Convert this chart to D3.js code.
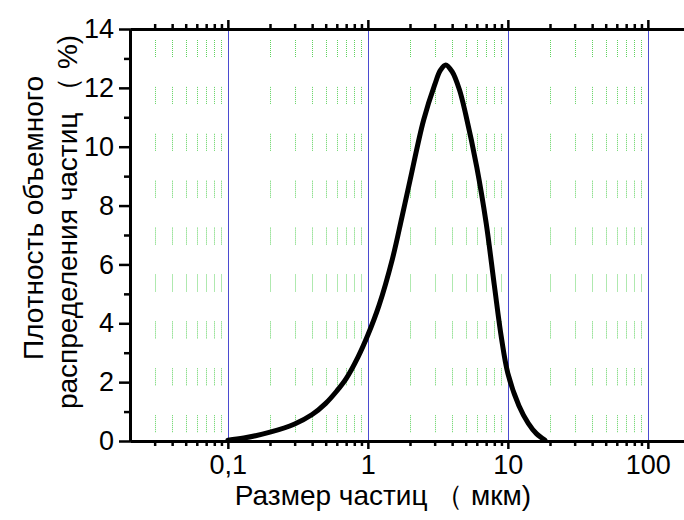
<!DOCTYPE html>
<html>
<head>
<meta charset="utf-8">
<script src="https://cdn.jsdelivr.net/npm/d3@7"></script>
<style>
  body { margin: 0; background: #fff; }
  svg { display: block; font-family: "Liberation Sans", Arial, sans-serif; }
</style>
</head>
<body>
<svg width="684" height="520"></svg>
<script>
const width = 684, height = 520;
const svg = d3.select("svg");

// particle size (um) and volume density (%)
const sizes = [0.1, 0.13, 0.2, 0.3, 0.4, 0.5, 0.6, 0.7, 0.85, 1, 1.2, 1.5, 1.75, 2, 2.5, 3, 3.3, 3.6, 4, 4.5, 5, 6, 7, 8, 9, 10, 12, 14, 16, 18.4];
const density = [0.03, 0.1, 0.3, 0.58, 0.9, 1.28, 1.7, 2.12, 2.85, 3.6, 4.6, 6.2, 7.6, 8.85, 10.9, 12.1, 12.6, 12.78, 12.55, 11.95, 11.1, 9.3, 7.4, 5.3, 3.5, 2.3, 1.2, 0.6, 0.25, 0.03];

const xMajor = [0.1, 1, 10, 100];
const xMajorLabels = ["0,1", "1", "10", "100"];
const xMinor = [0.03, 0.04, 0.05, 0.06, 0.07, 0.08, 0.09,
                0.2, 0.3, 0.4, 0.5, 0.6, 0.7, 0.8, 0.9,
                2, 3, 4, 5, 6, 7, 8, 9,
                20, 30, 40, 50, 60, 70, 80, 90];
const yMajor = [0, 2, 4, 6, 8, 10, 12, 14];
const yMinor = [1, 3, 5, 7, 9, 11, 13];

const xTitle = "Размер частиц （ мкм)";
const yTitle1 = "Плотность объемного";
const yTitle2 = "распределения частиц （ %)";

const plotLeft = 130, plotTop = 29, plotBottom = 441;

const x = d3.scaleLog().domain([0.02, 200]).range([plotLeft, plotLeft + 560]);
const y = d3.scaleLinear().domain([0, 14]).range([plotBottom, plotTop]);

// green dotted grid at minor positions
const dots = d3.range(16).map(() => 1).concat([1, 29.9]);
svg.append("g")
  .selectAll("line")
  .data(xMinor)
  .enter().append("line")
  .attr("x1", d => Math.round(x(d)) + 0.5)
  .attr("x2", d => Math.round(x(d)) + 0.5)
  .attr("y1", 40)
  .attr("y2", plotBottom - 6)
  .attr("stroke", "#5fd25f")
  .attr("stroke-width", 1)
  .attr("stroke-dasharray", dots.join(" "));

// blue lines at decades
svg.append("g")
  .selectAll("line")
  .data(xMajor)
  .enter().append("line")
  .attr("x1", d => Math.round(x(d)) + 0.5)
  .attr("x2", d => Math.round(x(d)) + 0.5)
  .attr("y1", plotTop)
  .attr("y2", plotBottom)
  .attr("stroke", "#4b4bd0")
  .attr("stroke-width", 1);

// curve
const line = d3.line()
  .x((d, i) => x(sizes[i]))
  .y(d => y(d))
  .curve(d3.curveCatmullRom.alpha(0.5));

svg.append("path")
  .datum(density)
  .attr("fill", "none")
  .attr("stroke", "#000")
  .attr("stroke-width", 5)
  .attr("stroke-linejoin", "round")
  .attr("stroke-linecap", "round")
  .attr("d", line);

function styleAxis(g) {
  g.select(".domain").attr("stroke-width", 3);
  g.selectAll(".tick line").attr("stroke-width", 2.5);
  g.selectAll(".tick text").style("font-size", "27px").attr("fill", "#000");
}

// bottom axis
svg.append("g")
  .attr("transform", `translate(0,${plotBottom})`)
  .call(d3.axisBottom(x).tickValues(xMinor).tickSize(5).tickSizeOuter(0).tickFormat(""))
  .call(styleAxis);
svg.append("g")
  .attr("transform", `translate(0,${plotBottom})`)
  .call(d3.axisBottom(x).tickValues(xMajor).tickSize(8).tickSizeOuter(0)
    .tickFormat((d, i) => xMajorLabels[i]).tickPadding(6))
  .call(styleAxis);

// top axis
svg.append("g")
  .attr("transform", `translate(0,${plotTop})`)
  .call(d3.axisTop(x).tickValues(xMinor).tickSize(5).tickSizeOuter(0).tickFormat(""))
  .call(styleAxis);
svg.append("g")
  .attr("transform", `translate(0,${plotTop})`)
  .call(d3.axisTop(x).tickValues(xMajor).tickSize(9).tickSizeOuter(0).tickFormat(""))
  .call(styleAxis);

// left axis
svg.append("g")
  .attr("transform", `translate(${plotLeft},0)`)
  .call(d3.axisLeft(y).tickValues(yMinor).tickSize(6).tickSizeOuter(0).tickFormat(""))
  .call(styleAxis);
svg.append("g")
  .attr("transform", `translate(${plotLeft},0)`)
  .call(d3.axisLeft(y).tickValues(yMajor).tickSize(11).tickSizeOuter(0).tickPadding(5))
  .call(styleAxis);

// titles
svg.append("text")
  .attr("x", 383)
  .attr("y", 505)
  .attr("text-anchor", "middle")
  .style("font-size", "28px")
  .text(xTitle);

svg.append("text")
  .attr("transform", "translate(43,218) rotate(-90)")
  .attr("text-anchor", "middle")
  .style("font-size", "28px")
  .text(yTitle1);

svg.append("text")
  .attr("transform", "translate(77,222) rotate(-90)")
  .attr("text-anchor", "middle")
  .style("font-size", "28px")
  .text(yTitle2);
</script>
</body>
</html>
